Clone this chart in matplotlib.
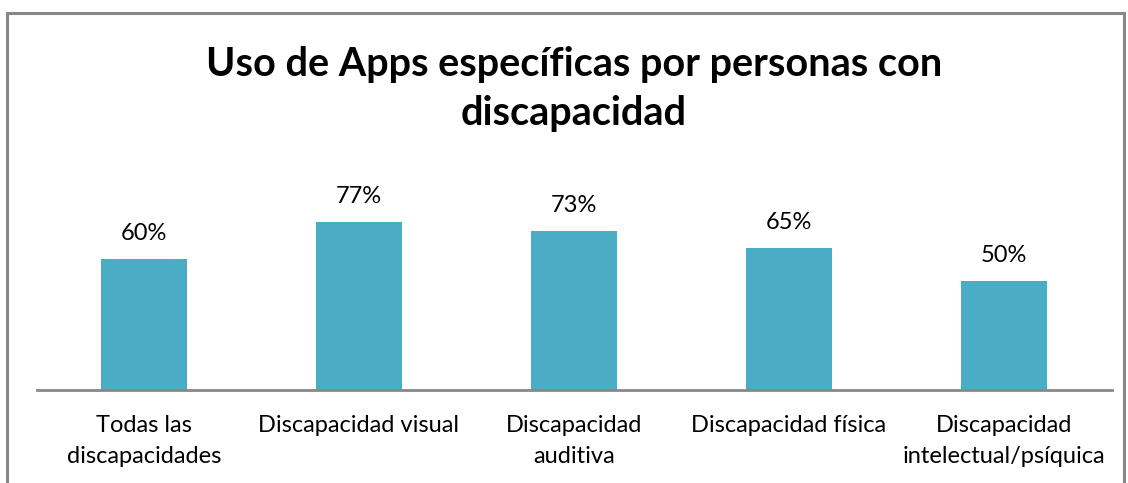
import matplotlib.pyplot as plt
from matplotlib.patches import Rectangle

categorias = ['Todas las\ndiscapacidades', 'Discapacidad visual', 'Discapacidad\nauditiva',
              'Discapacidad física', 'Discapacidad\nintelectual/psíquica']
valores = [60, 77, 73, 65, 50]

plt.rcParams['font.family'] = ['Lato', 'DejaVu Sans']

W, H = 1128, 483
fig = plt.figure(figsize=(W / 100, H / 100), dpi=100)

# marco gris del gráfico
fig.patches.append(Rectangle((6.5 / W, -0.1), (1124 - 6.5) / W, 1.1 - 13 / H,
                             transform=fig.transFigure, fill=False,
                             edgecolor='#878787', linewidth=2.2))

ax = fig.add_axes([36.5 / W, (H - 390) / H, 1075 / W, 218 / H])
x = range(len(valores))
bars = ax.bar(x, valores, width=0.4, color='#4BACC6')
ax.set_xlim(-0.5, len(valores) - 0.5)
ax.set_ylim(0, 100)

for b, v in zip(bars, valores):
    ax.annotate(f'{v}%', (b.get_x() + b.get_width() / 2, v), xytext=(0, 11),
                textcoords='offset points', ha='center', va='bottom', fontsize=17)

ax.set_xticks(list(x))
ax.set_xticklabels(categorias, fontsize=17, linespacing=1.6)
ax.tick_params(axis='x', length=0, pad=18)
ax.set_yticks([])
for s in ['top', 'right', 'left']:
    ax.spines[s].set_visible(False)
ax.spines['bottom'].set_color('#878787')
ax.spines['bottom'].set_linewidth(2)

fig.text(574 / W, 1 - 89 / H, 'Uso de Apps específicas por personas con\ndiscapacidad',
         ha='center', va='center', fontsize=28.5, fontweight='bold', linespacing=1.42)

fig.savefig('out.png', dpi=100)
